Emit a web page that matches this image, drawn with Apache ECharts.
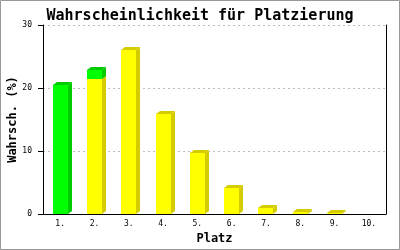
<!DOCTYPE html>
<html><head><meta charset="utf-8">
<script src="https://cdn.jsdelivr.net/npm/echarts@6/dist/echarts.min.js"></script>
<style>html,body{margin:0;padding:0;background:#fff}#c{width:400px;height:250px}</style>
</head><body><div id="c"></div>
<script>
var categories = ['1.','2.','3.','4.','5.','6.','7.','8.','9.','10.'];
var yellowValues = [0, 21.4, 26.0, 15.9, 9.7, 4.2, 1.0, 0.3, 0.1, 0];
var greenValues = [20.5, 1.5, 0, 0, 0, 0, 0, 0, 0, 0];
var yTicks = [0, 10, 20, 30];

var DX = 4, DY = 3;
function makeRender(front, dark, baseArr) {
  return function (params, api) {
    var i = api.value(0);
    var base = baseArr ? baseArr[i] : 0;
    var v = api.value(1);
    if (!v) return null;
    var p0 = api.coord([i, base]);
    var p1 = api.coord([i, base + v]);
    var w = api.size([1, 0])[0] * 0.44;
    var x0 = Math.round(p0[0] - w / 2), x1 = Math.round(p0[0] + w / 2);
    var yb = Math.round(p0[1]), yt = Math.round(p1[1]);
    return {
      type: 'group',
      children: [
        { type: 'polygon', shape: { points: [[x1, yb], [x1 + DX, yb - DY], [x1 + DX, yt - DY], [x1, yt]] }, style: { fill: dark } },
        { type: 'polygon', shape: { points: [[x0, yt], [x0 + DX, yt - DY], [x1 + DX, yt - DY], [x1, yt]] }, style: { fill: dark } },
        { type: 'rect', shape: { x: x0, y: yt, width: x1 - x0, height: yb - yt }, style: { fill: front } }
      ]
    };
  };
}
function seriesData(arr) { return arr.map(function (v, i) { return [i, v]; }); }

var chart = echarts.init(document.getElementById('c'), null, { renderer: 'canvas' });
var mono = 'DejaVu Sans Mono';
chart.setOption({
  animation: false,
  backgroundColor: '#fff',
  title: {
    text: 'Wahrscheinlichkeit für Platzierung', left: 'center', top: 4,
    textStyle: { fontFamily: mono, fontSize: 15, fontWeight: 'bold', color: '#000' }
  },
  graphic: [{ type: 'rect', shape: { x: 0.5, y: 0.5, width: 399, height: 249 }, style: { fill: 'none', stroke: '#999', lineWidth: 1 }, z: 100 }],
  grid: { left: 43, right: 14, top: 25, bottom: 36, containLabel: false, outerBoundsMode: 'none' },
  xAxis: {
    type: 'category', data: categories,
    name: 'Platz', nameLocation: 'middle', nameGap: 19, nameMoveOverlap: false,
    nameTextStyle: { fontFamily: mono, fontSize: 12, fontWeight: 'bold', color: '#000' },
    axisLine: { lineStyle: { color: '#000', width: 1 } },
    axisTick: { show: false },
    axisLabel: { fontFamily: mono, fontSize: 8, color: '#000', margin: 6 },
    splitLine: { show: false }
  },
  yAxis: [{
    type: 'value', min: 0, max: 30, interval: 10,
    name: 'Wahrsch. (%)', nameLocation: 'middle', nameGap: 24, nameMoveOverlap: false,
    nameTextStyle: { fontFamily: mono, fontSize: 12, fontWeight: 'bold', color: '#000' },
    axisLine: { show: true, lineStyle: { color: '#000', width: 1 } },
    axisTick: { show: true, length: 5, lineStyle: { color: '#000' } },
    axisLabel: { fontFamily: mono, fontSize: 8, color: '#000', margin: 11,
      formatter: function (v) { return yTicks.indexOf(v) >= 0 ? String(v) : ''; } },
    splitLine: { show: true, lineStyle: { color: '#bbb', type: [2, 3] } }
  }, {
    type: 'value', min: 0, max: 30, interval: 10, position: 'right',
    axisLine: { show: true, lineStyle: { color: '#000', width: 1 } },
    axisTick: { show: false },
    axisLabel: { show: false }, splitLine: { show: false }
  }],
  series: [
    { type: 'custom', renderItem: makeRender('#ffff00', '#d4cc00', null), data: seriesData(yellowValues), encode: { x: 0, y: 1 } },
    { type: 'custom', renderItem: makeRender('#00ff00', '#00cc00', yellowValues), data: seriesData(greenValues), encode: { x: 0, y: 1 } }
  ]
});
</script></body></html>
